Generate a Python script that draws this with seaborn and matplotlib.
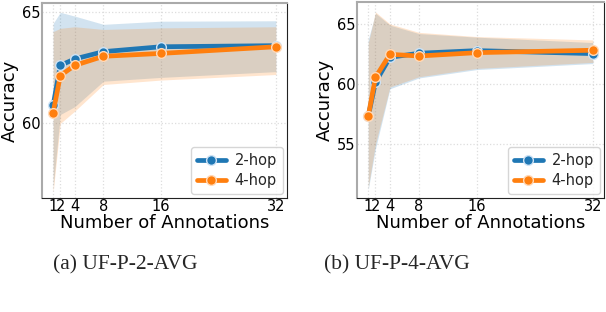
import matplotlib
matplotlib.use("Agg")
import matplotlib.pyplot as plt
import seaborn as sns
import pandas as pd

annotations = [1, 2, 4, 8, 16, 32]
tick_labels = ["1", "2", "4", "8", "16", "32"]
series_names = ["2-hop", "4-hop"]

# Panel (a) UF-P-2-AVG
a_2hop_mean = [60.81, 62.61, 62.90, 63.23, 63.45, 63.50]
a_2hop_low = [57.1, 60.4, 60.75, 61.9, 62.07, 62.33]
a_2hop_high = [64.5, 65.0, 64.83, 64.46, 64.6, 64.62]
a_4hop_mean = [60.48, 62.15, 62.61, 63.02, 63.15, 63.45]
a_4hop_low = [56.9, 60.0, 60.55, 61.75, 61.95, 62.2]
a_4hop_high = [64.13, 64.28, 64.35, 64.23, 64.3, 64.35]

# Panel (b) UF-P-4-AVG
b_2hop_mean = [57.3, 60.14, 62.22, 62.56, 62.78, 62.53]
b_2hop_low = [51.2, 54.6, 59.6, 60.5, 61.2, 61.7]
b_2hop_high = [63.7, 65.9, 64.9, 64.2, 63.9, 63.45]
b_4hop_mean = [57.3, 60.56, 62.47, 62.33, 62.61, 62.81]
b_4hop_low = [51.4, 55.0, 59.75, 60.6, 61.3, 61.8]
b_4hop_high = [63.4, 66.0, 65.0, 64.3, 63.95, 63.67]

captions = ["(a) UF-P-2-AVG", "(b) UF-P-4-AVG"]

sns.set_theme(style="whitegrid")
plt.rcParams['font.family'] = ['DejaVu Sans']

fig = plt.figure(figsize=(6.06, 3.12), dpi=100)
ax1 = fig.add_axes([42/606, 114/312, 245/606, 195/312])
ax2 = fig.add_axes([357/606, 114/312, 247/606, 196/312])

colors = ["#1f77b4", "#ff7f0e"]
edge_colors = ["#cfe3f5", "#ffd9b8"]

panels = [
    (ax1, [(a_2hop_mean, a_2hop_low, a_2hop_high), (a_4hop_mean, a_4hop_low, a_4hop_high)],
     (56.64, 65.42), [60, 65]),
    (ax2, [(b_2hop_mean, b_2hop_low, b_2hop_high), (b_4hop_mean, b_4hop_low, b_4hop_high)],
     (50.5, 66.83), [55, 60, 65]),
]

for ax, series, ylim, yticks in panels:
    ax.set_facecolor("white")
    for (mean, low, high), name, c, ec in zip(series, series_names, colors, edge_colors):
        ax.fill_between(annotations, low, high, color=c, alpha=0.2, linewidth=0)
        df = pd.DataFrame({"x": annotations, "y": mean})
        sns.lineplot(data=df, x="x", y="y", ax=ax, color=c, linewidth=3.4,
                     marker="o", markersize=7, markeredgecolor=ec,
                     markeredgewidth=1.0, label=name)
    ax.set_xlim(-0.55, 33.55)
    ax.set_ylim(*ylim)
    ax.set_xticks(annotations)
    ax.set_xticklabels(tick_labels)
    ax.set_yticks(yticks)
    ax.tick_params(axis="both", labelsize=10.5, pad=1, length=0, colors="black")
    ax.set_xlabel("Number of Annotations", fontsize=13, labelpad=0, color="black")
    ax.set_ylabel("Accuracy", fontsize=13, labelpad=2, color="black")
    ax.grid(True, color="#dddddd", linestyle=":", linewidth=0.9)
    for side in ["left", "top"]:
        ax.spines[side].set_color("#aaaaaa")
        ax.spines[side].set_linewidth(1.5)
    for side in ["bottom", "right"]:
        ax.spines[side].set_color("#222222")
        ax.spines[side].set_linewidth(0.8)
    leg = ax.legend(loc="lower right", fontsize=10.5, handlelength=2.0, frameon=True,
                    borderpad=0.4, labelspacing=0.35, handletextpad=0.6,
                    borderaxespad=0.3)
    leg.get_frame().set_edgecolor("#cccccc")

fig.text(125/606, 1 - 265/312, captions[0], ha="center", va="center",
         fontsize=15.5, family="Liberation Serif")
fig.text(397/606, 1 - 265/312, captions[1], ha="center", va="center",
         fontsize=15.5, family="Liberation Serif")

fig.savefig("out.png", dpi=100)
